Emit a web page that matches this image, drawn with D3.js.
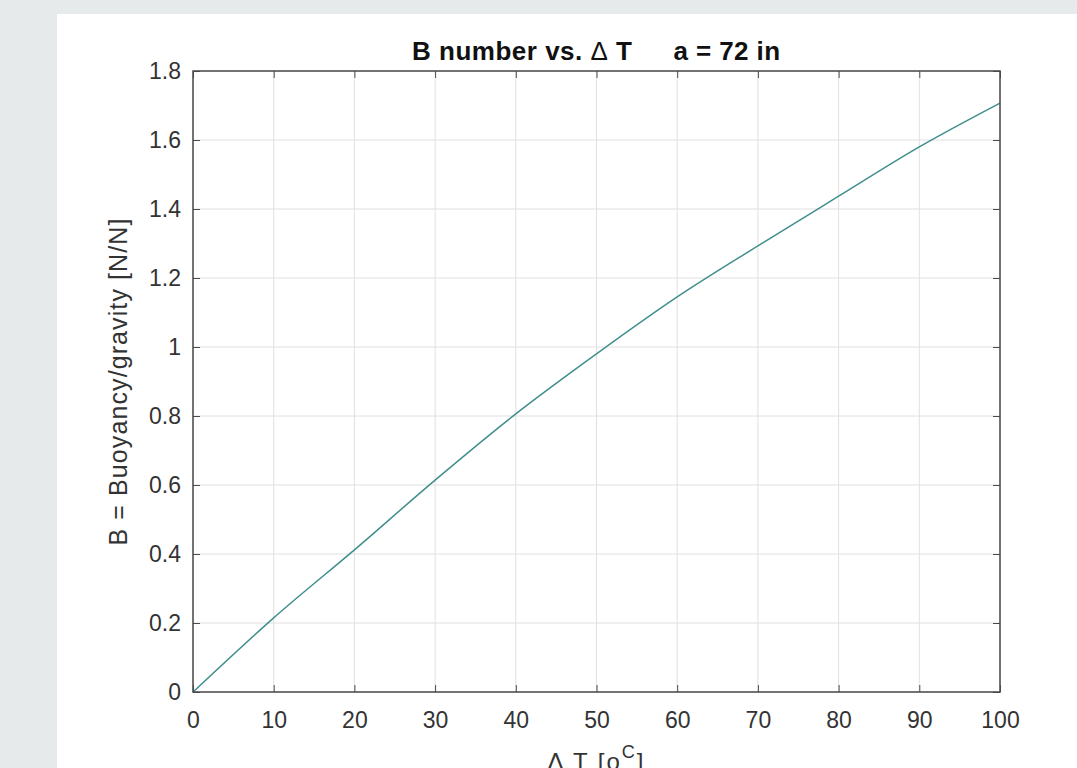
<!DOCTYPE html>
<html><head><meta charset="utf-8">
<script src="https://cdn.jsdelivr.net/npm/d3@7"></script>
<style>
html,body{margin:0;padding:0;background:#e7eaeb;}
svg{display:block;}
text{white-space:pre;}
</style></head>
<body>
<svg id="c" width="1077" height="768"></svg>
<script>
const deltaT = [0, 10, 20, 30, 40, 50, 60, 70, 80, 90, 100];
const bNumber = [0, 0.215, 0.412, 0.614, 0.806, 0.98, 1.145, 1.293, 1.437, 1.58, 1.707];
const xTicks = [0, 10, 20, 30, 40, 50, 60, 70, 80, 90, 100];
const yTicks = [0, 0.2, 0.4, 0.6, 0.8, 1, 1.2, 1.4, 1.6, 1.8];
const titleLeft = "B number vs. ";
const titleDelta = "Δ";
const titleT = " T";
const titleRight = "a = 72 in";
const yLabel = "B = Buoyancy/gravity [N/N]";

const svg = d3.select("#c");
const font = "Liberation Sans, Arial, Helvetica, sans-serif";
svg.append("rect").attr("x",57).attr("y",14).attr("width",1077-57).attr("height",768-14).attr("fill","#fff");

const L=193, R=1000, T=71, B=692;
const x = d3.scaleLinear().domain([0,100]).range([L,R]);
const y = d3.scaleLinear().domain([0,1.8]).range([B,T]);
const axisCol="#4a4a4a", textCol="#333";
const cx=(L+R)/2;

// grid
const g = svg.append("g");
g.selectAll(".gx").data(xTicks).join("line")
 .attr("x1",d=>x(d)).attr("x2",d=>x(d)).attr("y1",T).attr("y2",B)
 .attr("stroke","#e0e0e0").attr("stroke-width",1);
g.selectAll(".gy").data(yTicks).join("line")
 .attr("y1",d=>y(d)).attr("y2",d=>y(d)).attr("x1",L).attr("x2",R)
 .attr("stroke","#e0e0e0").attr("stroke-width",1);

// line
const line = d3.line().x((d,i)=>x(deltaT[i])).y(d=>y(d)).curve(d3.curveMonotoneX);
svg.append("path").datum(bNumber).attr("d",line).attr("fill","none")
 .attr("stroke","#3f8f8c").attr("stroke-width",1.5);

// axes with inward ticks on all sides
const tl=7;
const styleAxis = sel => { sel.select(".domain").remove(); sel.selectAll("line").attr("stroke",axisCol).attr("stroke-width",1); };
const xb = svg.append("g").attr("transform",`translate(0,${B})`)
 .call(d3.axisBottom(x).tickValues(xTicks).tickSize(-tl).tickPadding(20).tickFormat(d3.format("d")));
styleAxis(xb);
xb.selectAll("text").attr("font-family",font).attr("font-size",23).attr("fill",textCol);
const xt = svg.append("g").attr("transform",`translate(0,${T})`)
 .call(d3.axisTop(x).tickValues(xTicks).tickSize(-tl).tickFormat(""));
styleAxis(xt);
const yl = svg.append("g").attr("transform",`translate(${L},0)`)
 .call(d3.axisLeft(y).tickValues(yTicks).tickSize(-tl).tickPadding(12).tickFormat(d=>String(+d.toFixed(1))));
styleAxis(yl);
yl.selectAll("text").attr("font-family",font).attr("font-size",23).attr("fill",textCol);
const yr = svg.append("g").attr("transform",`translate(${R},0)`)
 .call(d3.axisRight(y).tickValues(yTicks).tickSize(-tl).tickFormat(""));
styleAxis(yr);

// box
svg.append("rect").attr("x",L).attr("y",T).attr("width",R-L).attr("height",B-T)
 .attr("fill","none").attr("stroke",axisCol).attr("stroke-width",1.5);

// title
const t1 = svg.append("text").attr("x",cx+36).attr("y",60).attr("text-anchor","end")
 .attr("font-family",font).attr("font-size",26).attr("font-weight","bold").attr("fill","#111")
 .attr("letter-spacing",0.5);
t1.append("tspan").text(titleLeft);
t1.append("tspan").attr("font-weight","normal").text(titleDelta);
t1.append("tspan").text(titleT);
svg.append("text").attr("x",cx+77).attr("y",60).attr("text-anchor","start")
 .attr("font-family",font).attr("font-size",26).attr("font-weight","bold").attr("fill","#111")
 .attr("letter-spacing",0.4).text(titleRight);

// y label
svg.append("text").attr("transform",`translate(127,${(T+B)/2}) rotate(-90)`)
 .attr("text-anchor","middle").attr("font-family",font).attr("font-size",25).attr("fill",textCol)
 .attr("letter-spacing",1.1).text(yLabel);

// x label
const xlab = svg.append("text").attr("x",cx).attr("y",770).attr("text-anchor","middle")
 .attr("font-family",font).attr("font-size",24).attr("fill",textCol).attr("letter-spacing",2);
xlab.append("tspan").text("Δ T [o");
xlab.append("tspan").attr("dy",-12).attr("font-size",18).text("C");
xlab.append("tspan").attr("dy",12).text("]");
</script>
</body></html>
